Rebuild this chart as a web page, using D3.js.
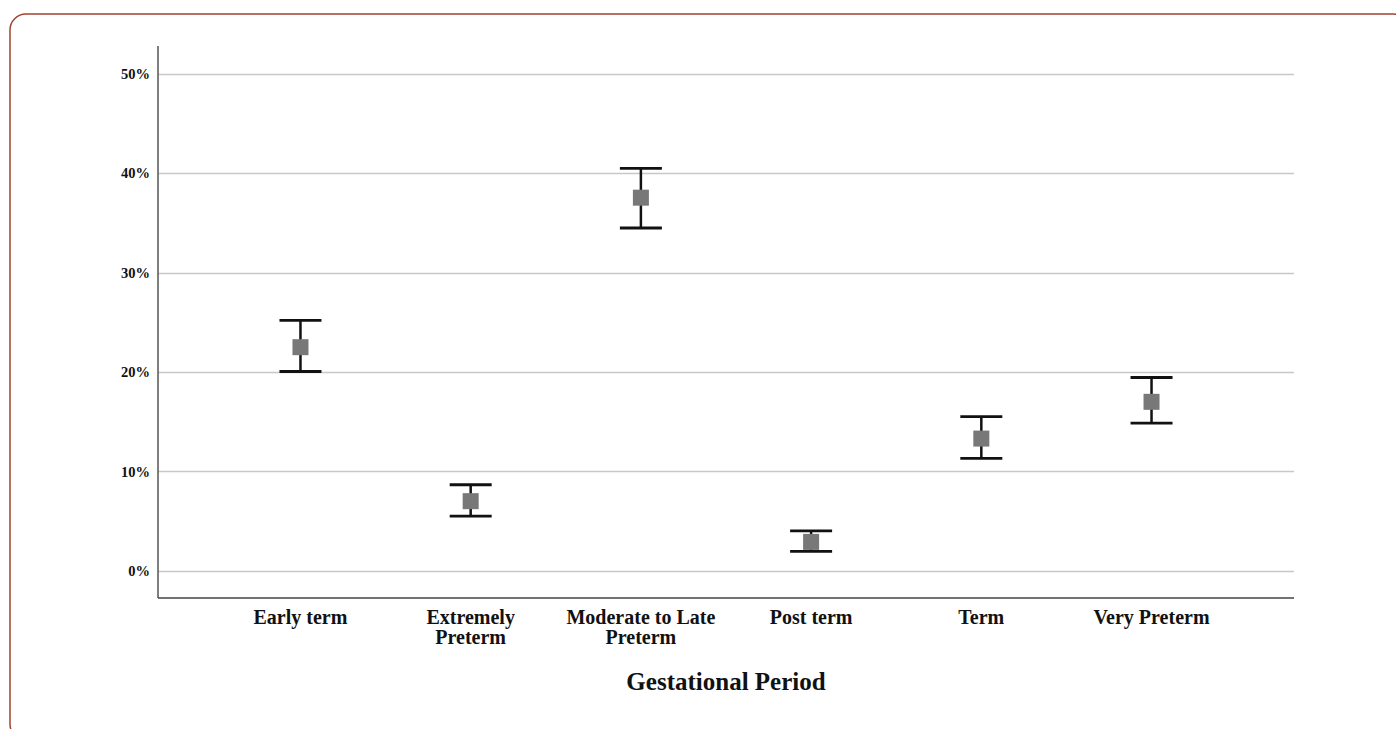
<!DOCTYPE html>
<html>
<head>
<meta charset="utf-8">
<script src="https://cdn.jsdelivr.net/npm/d3@7"></script>
<style>
  body { margin: 0; background: #fff; }
  svg { display: block; }
</style>
</head>
<body>
<div id="chart"></div>
<script>
// data (percent)
var categories = ["Early term", "Extremely Preterm", "Moderate to Late Preterm", "Post term", "Term", "Very Preterm"];
var labelLines = [["Early term"], ["Extremely", "Preterm"], ["Moderate to Late", "Preterm"], ["Post term"], ["Term"], ["Very Preterm"]];
var means = [22.5, 7.0, 37.55, 2.9, 13.3, 17.0];
var lower = [20.05, 5.5, 34.5, 1.95, 11.3, 14.85];
var upper = [25.2, 8.65, 40.5, 4.0, 15.5, 19.45];
var yTicks = [0, 10, 20, 30, 40, 50];

var W = 1396, H = 729;
var svg = d3.select("#chart").append("svg")
  .attr("width", W)
  .attr("height", H);

// frame (right and bottom edges run just past the picture)
svg.append("rect")
  .attr("x", 10).attr("y", 14)
  .attr("width", 1399).attr("height", 726)
  .attr("rx", 16).attr("ry", 16)
  .attr("fill", "none")
  .attr("stroke", "#9e4430")
  .attr("stroke-width", 1.5);

var plotLeft = 158, plotRight = 1294, plotTop = 46, plotBottom = 598;

var x = d3.scalePoint()
  .domain(categories)
  .range([plotLeft, plotRight])
  .padding(0.837);

var y = d3.scaleLinear()
  .domain([0, 50])
  .range([570.7, 74]);

// gridlines
svg.append("g")
  .selectAll("line")
  .data(yTicks)
  .enter().append("line")
    .attr("x1", plotLeft)
    .attr("x2", plotRight)
    .attr("y1", function(d) { return Math.round(y(d)) + 0.5; })
    .attr("y2", function(d) { return Math.round(y(d)) + 0.5; })
    .attr("stroke", "#c8c8c8")
    .attr("stroke-width", 1.5);

// y axis
var yAxis = svg.append("g")
  .attr("transform", "translate(" + plotLeft + ",0)")
  .call(d3.axisLeft(y).tickValues(yTicks).tickSize(0).tickPadding(8)
    .tickFormat(function(d) { return d + "%"; }));
yAxis.select(".domain").remove();
yAxis.selectAll("text")
  .attr("font-family", "'Liberation Serif', 'DejaVu Serif', serif")
  .attr("font-weight", "bold")
  .attr("font-size", "14.5px")
  .attr("fill", "#111");

svg.append("line")
  .attr("x1", plotLeft).attr("x2", plotLeft)
  .attr("y1", plotTop).attr("y2", plotBottom)
  .attr("stroke", "#555").attr("stroke-width", 1.5);
svg.append("line")
  .attr("x1", plotLeft).attr("x2", plotRight)
  .attr("y1", plotBottom).attr("y2", plotBottom)
  .attr("stroke", "#444").attr("stroke-width", 1.5);

// category labels
var lab = svg.append("g")
  .selectAll("text")
  .data(categories)
  .enter().append("text")
    .attr("x", function(d) { return x(d); })
    .attr("y", 624)
    .attr("text-anchor", "middle")
    .attr("font-family", "'Liberation Serif', 'DejaVu Serif', serif")
    .attr("font-weight", "bold")
    .attr("font-size", "20px")
    .attr("fill", "#111");
lab.selectAll("tspan")
  .data(function(d, i) { return labelLines[i]; })
  .enter().append("tspan")
    .attr("x", function() { return x(d3.select(this.parentNode).datum()); })
    .attr("dy", function(d, i) { return i === 0 ? 0 : 20; })
    .text(function(d) { return d; });

// axis title
svg.append("text")
  .attr("x", (plotLeft + plotRight) / 2)
  .attr("y", 690)
  .attr("text-anchor", "middle")
  .attr("font-family", "'Liberation Serif', 'DejaVu Serif', serif")
  .attr("font-weight", "bold")
  .attr("font-size", "25px")
  .attr("fill", "#111")
  .text("Gestational Period");

// error bars
var bars = svg.append("g")
  .selectAll("g")
  .data(categories)
  .enter().append("g");

bars.append("line")
  .attr("x1", function(d) { return x(d); })
  .attr("x2", function(d) { return x(d); })
  .attr("y1", function(d, i) { return y(upper[i]); })
  .attr("y2", function(d, i) { return y(lower[i]); })
  .attr("stroke", "#111").attr("stroke-width", 2.5);

bars.append("line")
  .attr("x1", function(d) { return x(d) - 21; })
  .attr("x2", function(d) { return x(d) + 21; })
  .attr("y1", function(d, i) { return y(upper[i]); })
  .attr("y2", function(d, i) { return y(upper[i]); })
  .attr("stroke", "#111").attr("stroke-width", 2.8);

bars.append("line")
  .attr("x1", function(d) { return x(d) - 21; })
  .attr("x2", function(d) { return x(d) + 21; })
  .attr("y1", function(d, i) { return y(lower[i]); })
  .attr("y2", function(d, i) { return y(lower[i]); })
  .attr("stroke", "#111").attr("stroke-width", 2.8);

bars.append("rect")
  .attr("x", function(d) { return x(d) - 8; })
  .attr("y", function(d, i) { return y(means[i]) - 8; })
  .attr("width", 16)
  .attr("height", 16)
  .attr("fill", "#787878");
</script>
</body>
</html>
